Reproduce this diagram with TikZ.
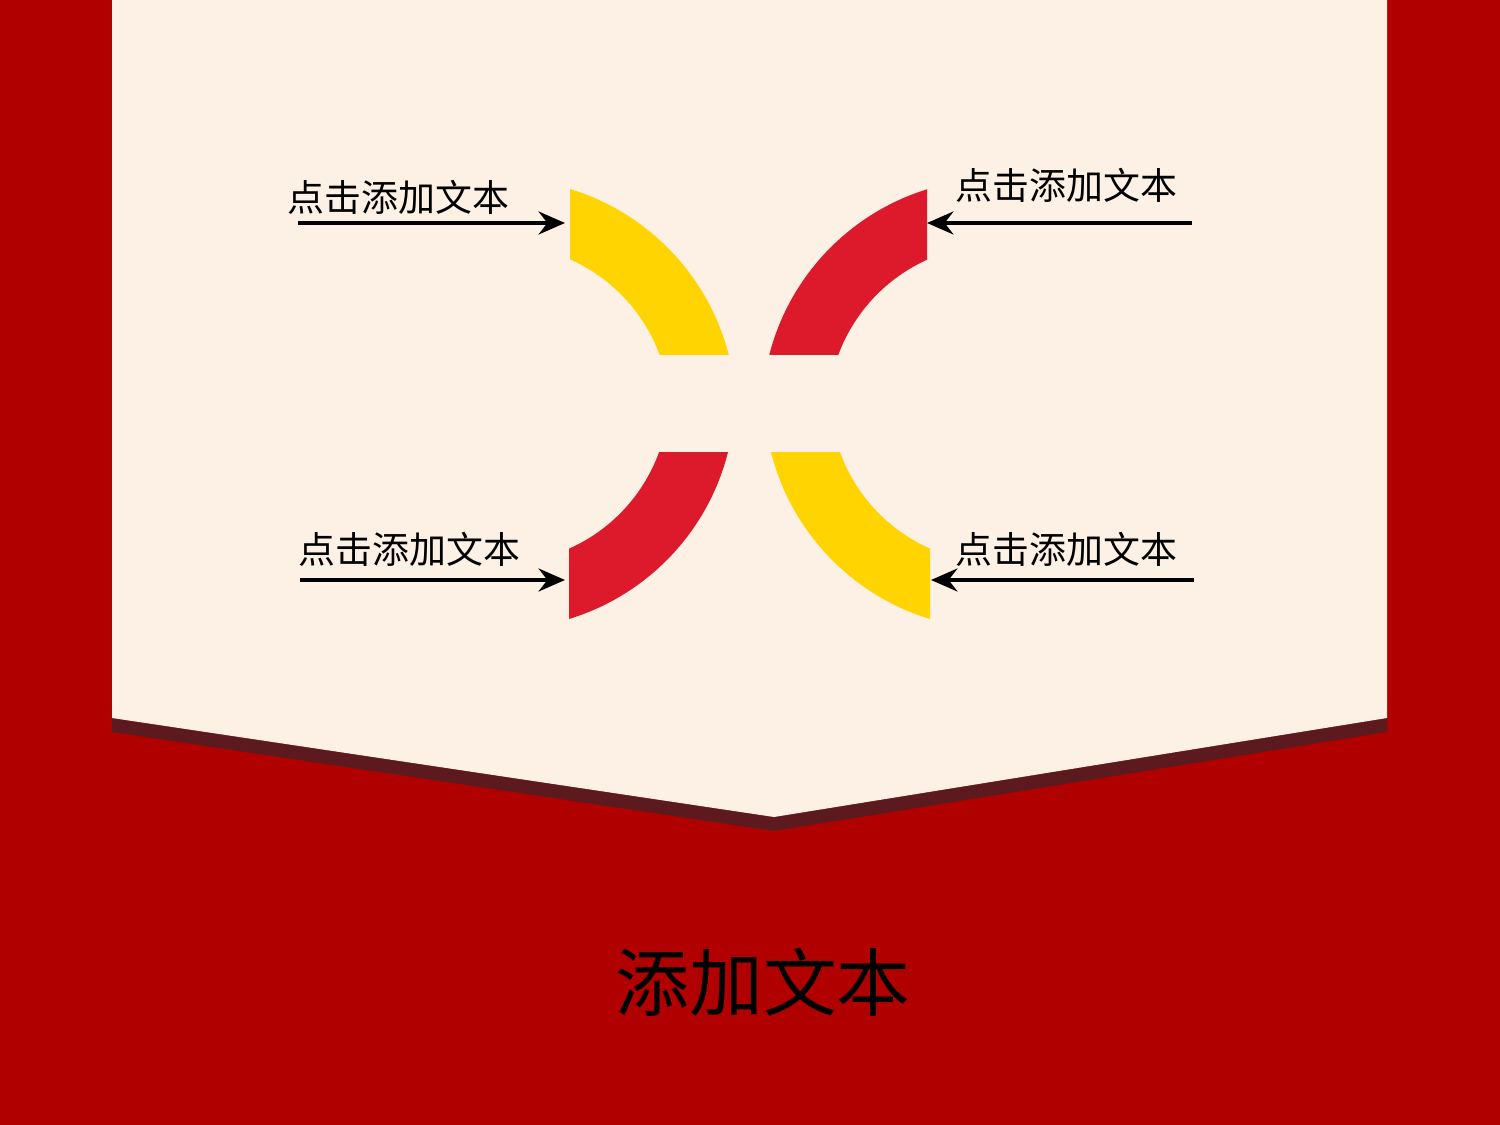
\documentclass[tikz,border=0pt]{standalone}
\usepackage{fontspec}
\newfontfamily\cjk{Noto Sans CJK SC}
\usetikzlibrary{arrows.meta}
\definecolor{bgred}{HTML}{B00000}
\definecolor{cream}{HTML}{FDF0E4}
\definecolor{band}{HTML}{5C1A1E}
\definecolor{arcyellow}{HTML}{FFD400}
\definecolor{arcred}{HTML}{DC1A2C}
\begin{document}
\begin{tikzpicture}[x=0.01cm,y=-0.01cm,
  lbl/.style={font=\cjk\fontsize{10.5}{12}\selectfont, inner sep=0pt, anchor=west, text=black},
  ttl/.style={font=\cjk\fontsize{21}{24}\selectfont, inner sep=0pt, text=black},
  arr/.style={line width=1.2pt, draw=black, -{Stealth[length=7.5pt,width=6.5pt,inset=2.5pt]}}]
\fill[bgred] (0,0) rectangle (1500,1125);
\useasboundingbox (0,0) rectangle (1500,1125);
% banner
\fill[band] (112,718) -- (774,817) -- (1387,718) -- (1387,732) -- (774,831) -- (112,732) -- cycle;
\fill[cream] (112,0) -- (1387,0) -- (1387,718) -- (774,817) -- (112,718) -- cycle;
% arcs
\begin{scope}
  \clip (570,0) rectangle (749,355);
  \fill[arcyellow, even odd rule] (502,413) circle (234) (502,413) circle (168);
\end{scope}
\begin{scope}
  \clip (749,0) rectangle (927,355);
  \fill[arcred, even odd rule] (996,413) circle (234) (996,413) circle (168);
\end{scope}
\begin{scope}
  \clip (569,453) rectangle (749,700);
  \fill[arcred, even odd rule] (501,395) circle (234) (501,395) circle (168);
\end{scope}
\begin{scope}
  \clip (749,453) rectangle (930,700);
  \fill[arcyellow, even odd rule] (998,395) circle (234) (998,395) circle (168);
\end{scope}
% labels
\node[lbl] (t1) at (287,197) {点击添加文本};
\node[lbl] (t2) at (955,185) {点击添加文本};
\node[lbl] (t3) at (298,549) {点击添加文本};
\node[lbl] (t4) at (955,549) {点击添加文本};
\node[ttl] (title) at (763,982) {添加文本};
% arrows
\coordinate (a1s) at (298,223); \coordinate (a1e) at (565,223);
\coordinate (a2s) at (1192,223); \coordinate (a2e) at (927,223);
\coordinate (a3s) at (300,580); \coordinate (a3e) at (565,580);
\coordinate (a4s) at (1194,580); \coordinate (a4e) at (931,580);
\draw[arr] (a1s) -- (a1e);
\draw[arr] (a2s) -- (a2e);
\draw[arr] (a3s) -- (a3e);
\draw[arr] (a4s) -- (a4e);
\end{tikzpicture}
\end{document}
